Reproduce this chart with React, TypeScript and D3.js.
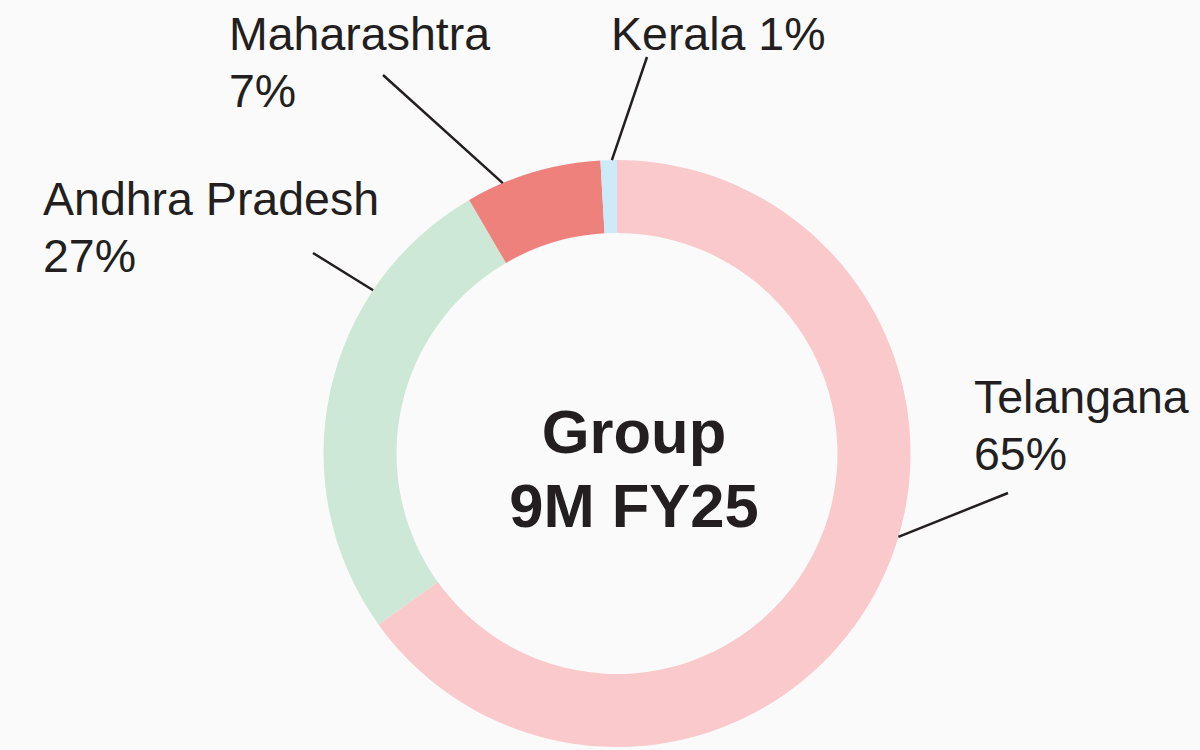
import React from "react";
import * as d3 from "d3";

const regions = ["Telangana", "Andhra Pradesh", "Maharashtra", "Kerala"];
const shares = [65.1, 26.5, 7.5, 0.9];
const pctLabels = ["65%", "27%", "7%", "1%"];
const colors = ["#f9c9cb", "#cde8d6", "#ee817c", "#cdeaf8"];
const centerLines = ["Group", "9M FY25"];

// label layout: text anchor position, whether single-line, leader angle (deg) and outer end
const labelLayout = [
  { x: 974, y: 413, single: false, leaderAngle: 106.5, end: [1008, 493] },
  { x: 43, y: 215, single: false, leaderAngle: 303.8, end: [313, 253] },
  { x: 229, y: 50, single: false, leaderAngle: 337.1, end: [383, 75] },
  { x: 611, y: 50, single: true, leaderAngle: 359, end: [647, 57] },
];

const W = 1200;
const H = 750;
const cx = 617;
const cy = 453.5;
const rOuter = 293.5;
const rInner = 220.5;
const ink = "#231f20";
const font = "'Liberation Sans', Arial, Helvetica, sans-serif";

export default function App() {
  const pie = d3
    .pie<number>()
    .sort(null)
    .value((d) => d)
    .startAngle(0)
    .endAngle(2 * Math.PI);
  const arcs = pie(shares);
  const arcGen = d3.arc<d3.PieArcDatum<number>>().innerRadius(rInner).outerRadius(rOuter);

  return (
    <div style={{ position: "fixed", left: 0, top: 0, width: W, height: H }}>
      <svg width={W} height={H} style={{ display: "block" }}>
        <rect x={0} y={0} width={W} height={H} fill="#fafafa" />
        <g transform={`translate(${cx},${cy})`}>
          {arcs.map((a, i) => (
            <path key={regions[i]} d={arcGen(a) || ""} fill={colors[i]} />
          ))}
        </g>
        {labelLayout.map((l, i) => {
          const ang = (l.leaderAngle * Math.PI) / 180;
          const px = cx + rOuter * Math.sin(ang);
          const py = cy - rOuter * Math.cos(ang);
          return (
            <line
              key={"ld" + i}
              x1={px}
              y1={py}
              x2={l.end[0]}
              y2={l.end[1]}
              stroke={ink}
              strokeWidth={2.5}
            />
          );
        })}
        {labelLayout.map((l, i) => (
          <text
            key={"lb" + i}
            x={l.x}
            y={l.y}
            fontFamily={font}
            fontSize={46.5}
            fill={ink}
          >
            {l.single ? (
              `${regions[i]} ${pctLabels[i]}`
            ) : (
              <>
                <tspan x={l.x}>{regions[i]}</tspan>
                <tspan x={l.x} dy={56.5}>
                  {pctLabels[i]}
                </tspan>
              </>
            )}
          </text>
        ))}
        <text
          x={634}
          y={453}
          textAnchor="middle"
          fontFamily={font}
          fontWeight="bold"
          fontSize={61.5}
          fill={ink}
        >
          <tspan x={634}>{centerLines[0]}</tspan>
          <tspan x={634} dy={74}>
            {centerLines[1]}
          </tspan>
        </text>
      </svg>
    </div>
  );
}
